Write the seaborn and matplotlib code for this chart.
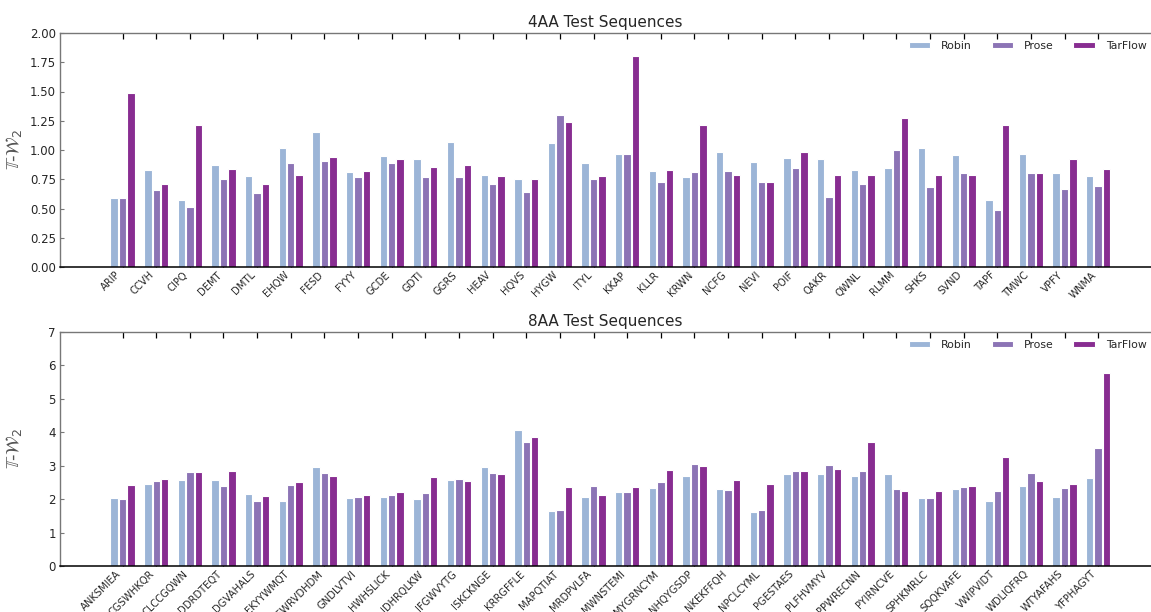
import matplotlib
matplotlib.use("Agg")
import matplotlib.pyplot as plt
import seaborn as sns
import pandas as pd

# ---- data -------------------------------------------------------------
models = ["Robin", "Prose", "TarFlow"]
colors = ["#9cb5d7", "#8c74b5", "#882d91"]

seqs_4aa = ["ARIP", "CCVH", "CIPQ", "DEMT", "DMTL", "EHQW", "FESD", "FYYY",
            "GCDE", "GDTI", "GGRS", "HEAV", "HQVS", "HYGW", "ITYL", "KKAP",
            "KLLR", "KRWN", "NCFG", "NEVI", "POIF", "QAKR", "QWNL", "RLMM",
            "SHKS", "SVND", "TAPF", "TMWC", "VPFY", "WNMA"]
robin_4aa = [0.59, 0.83, 0.57, 0.87, 0.78, 1.02, 1.15, 0.81, 0.95, 0.92,
             1.07, 0.785, 0.75, 1.06, 0.89, 0.97, 0.82, 0.77, 0.98, 0.90,
             0.93, 0.92, 0.83, 0.85, 1.02, 0.96, 0.57, 0.97, 0.80, 0.78]
prose_4aa = [0.59, 0.66, 0.51, 0.75, 0.63, 0.89, 0.91, 0.77, 0.89, 0.77,
             0.77, 0.71, 0.64, 1.30, 0.75, 0.97, 0.73, 0.81, 0.82, 0.73,
             0.845, 0.60, 0.71, 1.00, 0.68, 0.80, 0.49, 0.80, 0.665, 0.695]
tarflow_4aa = [1.485, 0.71, 1.21, 0.84, 0.71, 0.79, 0.94, 0.82, 0.925, 0.855,
               0.875, 0.78, 0.755, 1.24, 0.78, 1.80, 0.83, 1.215, 0.785, 0.725,
               0.985, 0.785, 0.79, 1.275, 0.79, 0.79, 1.215, 0.80, 0.92, 0.84]

seqs_8aa = ["ANKSMIEA", "CGSWHKQR", "CLCCGQWN", "DDRDTEQT", "DGVAHALS",
            "EKYYWMQT", "EWRVDHDM", "GNDLVTVI", "HWHSLICK", "IDHRQLKW",
            "IFGWVYTG", "ISKCKNGE", "KRRGFFLE", "MAPQTIAT", "MRDPVLFA",
            "MWNSTEMI", "MYGRNCYM", "NHQYGSDP", "NKEKFFQH", "NPCLCYML",
            "PGESTAES", "PLFHVMYV", "PPWRECNN", "PYIRNCVE", "SPHKMRLC",
            "SQQKVAFE", "VWIPVIDT", "WDLIQFRQ", "WTYAFAHS", "YFPHAGYT"]
robin_8aa = [2.02, 2.45, 2.57, 2.58, 2.14, 1.94, 2.95, 2.03, 2.07, 2.00,
             2.56, 2.95, 4.06, 1.645, 2.06, 2.20, 2.34, 2.68, 2.29, 1.605,
             2.76, 2.74, 2.68, 2.74, 2.04, 2.29, 1.95, 2.39, 2.07, 2.62]
prose_8aa = [2.01, 2.53, 2.80, 2.38, 1.95, 2.41, 2.77, 2.05, 2.11, 2.18,
             2.61, 2.78, 3.72, 1.665, 2.38, 2.20, 2.51, 3.04, 2.28, 1.665,
             2.85, 3.03, 2.83, 2.30, 2.03, 2.36, 2.23, 2.77, 2.32, 3.54]
tarflow_8aa = [2.41, 2.60, 2.82, 2.85, 2.08, 2.50, 2.70, 2.13, 2.20, 2.65,
               2.53, 2.74, 3.85, 2.35, 2.11, 2.35, 2.88, 3.00, 2.56, 2.45,
               2.85, 2.89, 3.72, 2.23, 2.25, 2.40, 3.25, 2.53, 2.46, 5.76]

yticks_4aa = [0.0, 0.25, 0.5, 0.75, 1.0, 1.25, 1.5, 1.75, 2.0]
yticks_8aa = [0, 1, 2, 3, 4, 5, 6, 7]


def long_form(seqs, *series):
    rows = []
    for name, vals in zip(models, series):
        for s, v in zip(seqs, vals):
            rows.append({"seq": s, "model": name, "val": v})
    return pd.DataFrame(rows)


sns.set_style("white")
plt.rcParams["font.family"] = ["DejaVu Sans"]

fig = plt.figure(figsize=(11.51, 6.12), dpi=100)
W, H = 1151, 612
ax_top = fig.add_axes([60 / W, 1 - 267 / H, 1 - 60 / W, 234 / H])
ax_bot = fig.add_axes([60 / W, 1 - 566 / H, 1 - 60 / W, 234 / H])

panels = [
    (ax_top, seqs_4aa, (robin_4aa, prose_4aa, tarflow_4aa), "4AA Test Sequences",
     yticks_4aa, "{:.2f}"),
    (ax_bot, seqs_8aa, (robin_8aa, prose_8aa, tarflow_8aa), "8AA Test Sequences",
     yticks_8aa, "{:d}"),
]

for ax, seqs, series, title, yticks, fmt in panels:
    df = long_form(seqs, *series)
    sns.barplot(data=df, x="seq", y="val", hue="model", order=seqs,
                hue_order=models, palette=colors, width=0.75, gap=0.12,
                edgecolor="white", linewidth=0.8, saturation=1, ax=ax)
    ax.set_xlim(-1.86, len(seqs) - 1 + 1.57)
    ax.set_ylim(yticks[0], yticks[-1])
    ax.set_yticks(yticks)
    ax.set_yticklabels([fmt.format(t) for t in yticks], fontsize=8.5)
    ax.set_xticks(range(len(seqs)))
    ax.set_xticklabels(seqs, rotation=45, ha="right", fontsize=7.2)
    ax.set_xlabel("")
    ax.set_ylabel(r"$\mathbb{T}$-$\mathcal{W}_2$", fontsize=13, color="#555555")
    ax.yaxis.set_label_coords(-0.033, 0.5)
    ax.set_title(title, fontsize=11, pad=4)

    for side in ("top", "left"):
        ax.spines[side].set_color("#777777")
        ax.spines[side].set_linewidth(1.0)
    ax.spines["bottom"].set_color("black")
    ax.spines["bottom"].set_linewidth(1.1)
    ax.spines["right"].set_visible(False)

    ax.tick_params(axis="x", which="both", direction="in", length=4.5,
                   width=0.9, top=True, bottom=True, color="black", pad=2)
    for t in ax.xaxis.get_major_ticks():
        t.tick2line.set_color("#555555")
    ax.tick_params(axis="y", direction="in", length=3, width=0.8,
                   color="#777777", left=True, pad=3)

    handles, labels = ax.get_legend_handles_labels()
    ax.legend(handles, labels, ncol=3, frameon=False, loc="upper left",
              bbox_to_anchor=(0.774, 0.985), borderaxespad=0, fontsize=7.8,
              handlelength=2.0, handleheight=0.6, handletextpad=1.0,
              columnspacing=1.8)

fig.savefig("out.png", dpi=100)
